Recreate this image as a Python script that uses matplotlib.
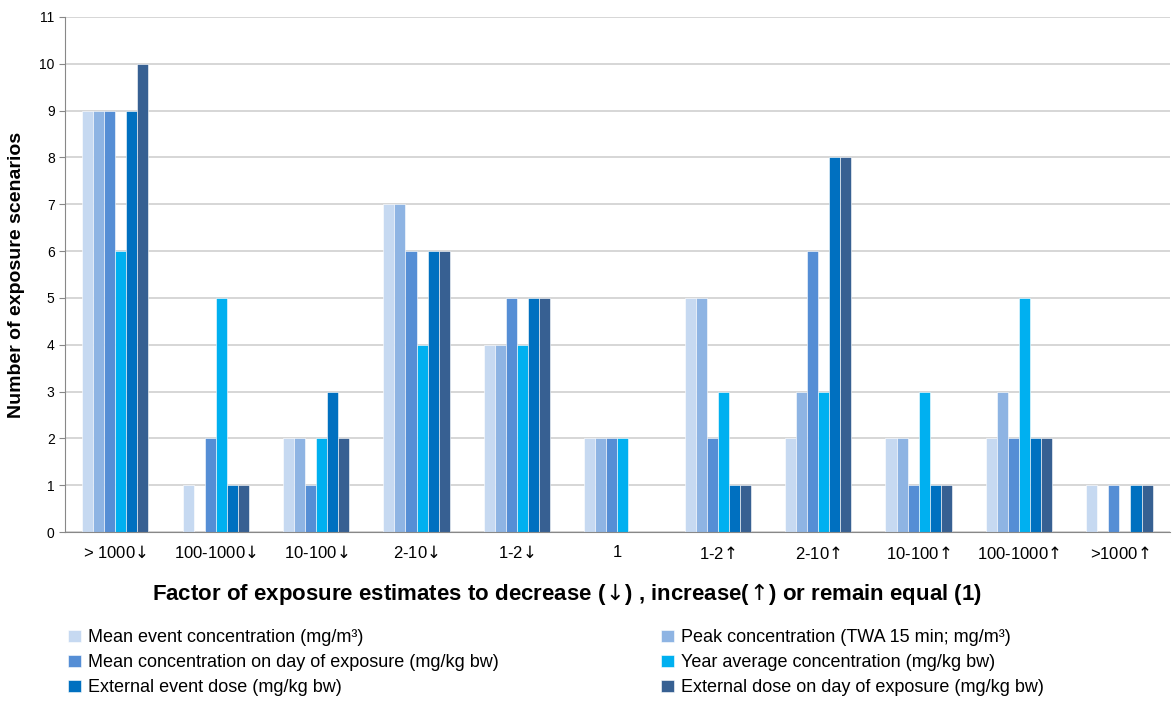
import numpy as np
import matplotlib.pyplot as plt

plt.rcParams['font.family'] = ['Liberation Sans', 'DejaVu Sans']
plt.rcParams['mathtext.fontset'] = 'dejavusans'

categories = ['> 1000↓', '100-1000↓', '10-100↓', '2-10↓', '1-2↓', '1',
              '1-2↑', '2-10↑', '10-100↑', '100-1000↑', '>1000↑']

series_names = ['Mean event concentration (mg/m³)',
                'Peak concentration (TWA 15 min; mg/m³)',
                'Mean concentration on day of exposure (mg/kg bw)',
                'Year average concentration (mg/kg bw)',
                'External event dose (mg/kg bw)',
                'External dose on day of exposure (mg/kg bw)']

mean_event = [9, 1, 2, 7, 4, 2, 5, 2, 2, 2, 1]
peak_conc = [9, 0, 2, 7, 4, 2, 5, 3, 2, 3, 0]
mean_day = [9, 2, 1, 6, 5, 2, 2, 6, 1, 2, 1]
year_avg = [6, 5, 2, 4, 4, 2, 3, 3, 3, 5, 0]
ext_event = [9, 1, 3, 6, 5, 0, 1, 8, 1, 2, 1]
ext_day = [10, 1, 2, 6, 5, 0, 1, 8, 1, 2, 1]

colors = ['#C6D9F1', '#8EB4E3', '#558ED5', '#00B0F0', '#0070C0', '#376092']

data = [mean_event, peak_conc, mean_day, year_avg, ext_event, ext_day]


def arrows(s):
    # bigger arrow glyphs, closer to the original; \! trims the side gaps
    return s.replace('↓', r'$\!{\downarrow}\!$').replace('↑', r'$\!{\uparrow}\!$')


fig = plt.figure(figsize=(11.72, 7.02), dpi=100)
ax = fig.add_axes([0.0555, 0.242, 0.9425, 0.734])

x = np.arange(len(categories))
w = 0.11
handles = []
for i, (vals, name, c) in enumerate(zip(data, series_names, colors)):
    h = ax.bar(x + (i - 2.5) * w, vals, w, color=c, label=name,
               edgecolor='white', linewidth=0.4)
    handles.append(h)

ax.set_xlim(-0.5, len(categories) - 0.5)
ax.set_ylim(0, 11)
ax.set_yticks(range(0, 12))
ax.yaxis.grid(True, color='#D0D0D0', linewidth=1.2)
ax.set_axisbelow(True)
ax.set_xticks(x)
ax.set_xticklabels([arrows(c) for c in categories], fontsize=12)
ax.tick_params(axis='x', length=0, pad=9)
ax.tick_params(axis='y', labelsize=10, length=4, color='#888888')
for s in ['top', 'right']:
    ax.spines[s].set_visible(False)
ax.spines['left'].set_color('#888888')
ax.spines['bottom'].set_color('#888888')

ax.set_ylabel('Number of exposure scenarios', fontsize=14, fontweight='bold', labelpad=10)
ax.set_xlabel(arrows('Factor of exposure estimates to decrease (↓) , increase(↑) or remain equal (1)'),
              fontsize=16, fontweight='bold')
ax.xaxis.set_label_coords(0.454, -0.095)

order = [0, 2, 4, 1, 3, 5]
fig.legend([handles[i] for i in order], [series_names[i] for i in order],
           loc='upper left', bbox_to_anchor=(0.052, 0.114), ncol=2, frameon=False,
           fontsize=13, handlelength=0.7, handleheight=0.7, handletextpad=0.4,
           columnspacing=9.0, labelspacing=0.45, borderaxespad=0)

fig.savefig('out.png', dpi=100)
